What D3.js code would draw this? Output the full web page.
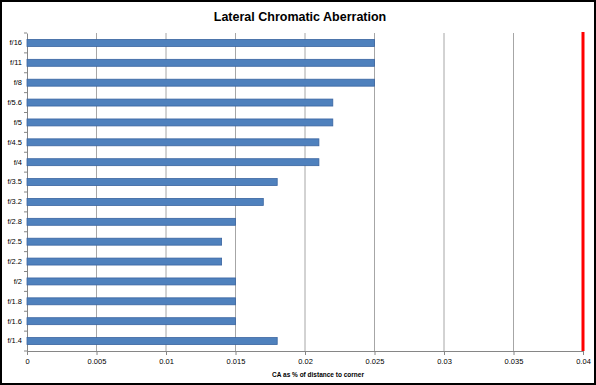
<!DOCTYPE html>
<html lang="en">
<head>
<meta charset="utf-8"/>
<title>Lateral Chromatic Aberration</title>
<script src="https://cdn.jsdelivr.net/npm/d3@7"></script>
<style>
  body { margin: 0; background: #fff; }
  svg { display: block; font-family: "Liberation Sans", Arial, sans-serif; }
</style>
</head>
<body>
<svg id="chart"></svg>
<script>
  // apertures top to bottom, CA values
  const apertures = ['f/16','f/11','f/8','f/5.6','f/5','f/4.5','f/4','f/3.5','f/3.2','f/2.8','f/2.5','f/2.2','f/2','f/1.8','f/1.6','f/1.4']
  const caValues = [0.025,0.025,0.025,0.022,0.022,0.021,0.021,0.018,0.017,0.015,0.014,0.014,0.015,0.015,0.015,0.018]
  const xTicks = [0,0.005,0.01,0.015,0.02,0.025,0.03,0.035,0.04]
  const limit = 0.04

  const width = 596
  const height = 385
  const margin = {top: 33, right: 13, bottom: 34, left: 27}

  const svg = d3.select('#chart')
    .attr('width', width)
    .attr('height', height)

  // outer frame
  svg.append('rect')
    .attr('x', 1).attr('y', 1)
    .attr('width', width - 2).attr('height', height - 2)
    .attr('fill', '#fff')
    .attr('stroke', '#000')
    .attr('stroke-width', 2)

  const x = d3.scaleLinear()
    .domain([0, 0.04])
    .range([margin.left, width - margin.right])

  const y = d3.scaleBand()
    .domain(apertures)
    .range([margin.top, height - margin.bottom])
    .paddingInner(0.65)
    .paddingOuter(0.325)

  const yb = d3.scaleBand().domain(apertures).range(y.range())

  // gridlines
  svg.append('g')
    .selectAll('line')
    .data(xTicks.slice(1))
    .enter()
    .append('line')
    .attr('x1', d => x(d)).attr('x2', d => x(d))
    .attr('y1', margin.top).attr('y2', height - margin.bottom)
    .attr('stroke', '#a6a6a6')
    .attr('stroke-width', 1)

  // x axis
  const xAxis = svg.append('g')
    .attr('transform', `translate(0,${height - margin.bottom})`)
    .call(d3.axisBottom(x).tickValues(xTicks).tickSize(4).tickPadding(4).tickFormat(d => d3.format('')(+d.toFixed(3))))
  xAxis.select('.domain').attr('stroke', '#868686')
  xAxis.selectAll('.tick line').attr('stroke', '#868686')
  xAxis.selectAll('text').attr('font-size', 7.5).attr('fill', '#000')

  // y axis
  const yAxis = svg.append('g')
    .attr('transform', `translate(${margin.left},0)`)
    .call(d3.axisLeft(y).tickSize(0).tickPadding(5))
  yAxis.select('.domain').attr('stroke', '#868686')
  yAxis.selectAll('text').attr('font-size', 7.5).attr('fill', '#000')

  // small category separator ticks
  svg.append('g')
    .selectAll('line')
    .data(apertures.map((a, i) => i).concat([apertures.length]))
    .enter()
    .append('line')
    .attr('x1', margin.left - 3).attr('x2', margin.left)
    .attr('y1', i => margin.top + i * yb.step())
    .attr('y2', i => margin.top + i * yb.step())
    .attr('stroke', '#868686')

  // bars
  svg.append('g')
    .selectAll('rect')
    .data(apertures)
    .enter()
    .append('rect')
    .attr('x', x(0))
    .attr('y', d => y(d))
    .attr('width', (d, i) => x(caValues[i]) - x(0))
    .attr('height', y.bandwidth())
    .attr('fill', '#4f81bd')
    .attr('stroke', '#3a64a0')
    .attr('stroke-width', 0.8)

  // limit line
  svg.append('line')
    .attr('x1', x(limit)).attr('x2', x(limit))
    .attr('y1', margin.top - 1).attr('y2', height - margin.bottom)
    .attr('stroke', '#ff0000')
    .attr('stroke-width', 3)

  // title
  svg.append('text')
    .attr('x', 300).attr('y', 21)
    .attr('text-anchor', 'middle')
    .attr('font-size', 12.5)
    .attr('font-weight', 'bold')
    .text('Lateral Chromatic Aberration')

  // x axis title
  svg.append('text')
    .attr('x', 318).attr('y', 377)
    .attr('text-anchor', 'middle')
    .attr('font-size', 6.5)
    .attr('font-weight', 'bold')
    .text('CA as % of distance  to corner')
</script>
</body>
</html>
